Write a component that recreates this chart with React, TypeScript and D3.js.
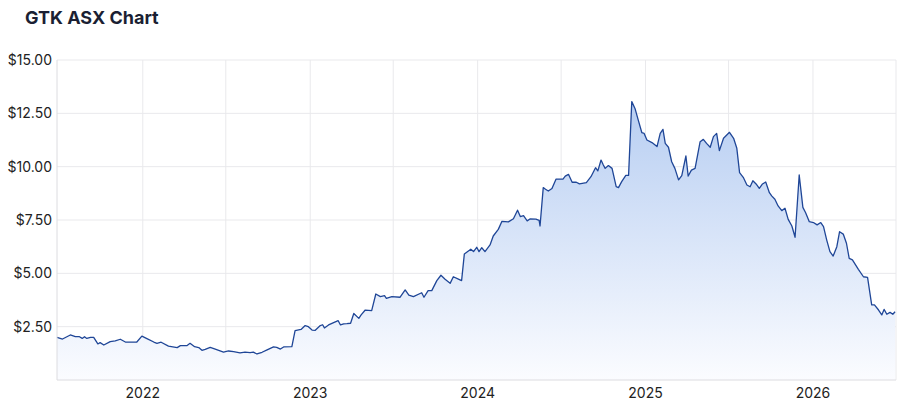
import React from "react";
import * as d3 from "d3";

const title = "GTK ASX Chart";

const dates: string[] = [
  "2021-06-28","2021-07-10","2021-07-27","2021-08-07","2021-08-16","2021-08-22","2021-08-27","2021-09-01","2021-09-09","2021-09-16",
  "2021-09-25","2021-09-30","2021-10-08","2021-10-22","2021-11-02","2021-11-13","2021-11-24","2021-12-19","2021-12-30","2022-01-10",
  "2022-01-25","2022-02-01","2022-02-10","2022-02-26","2022-03-17","2022-03-24","2022-04-07","2022-04-14","2022-04-24","2022-05-03",
  "2022-05-10","2022-05-17","2022-05-28","2022-06-08","2022-06-26","2022-07-07","2022-07-18","2022-08-01","2022-08-12","2022-08-23",
  "2022-08-30","2022-09-07","2022-09-18","2022-09-29","2022-10-13","2022-10-20","2022-10-28","2022-11-04","2022-11-22","2022-11-29",
  "2022-12-12","2022-12-21","2022-12-28","2023-01-05","2023-01-12","2023-01-23","2023-01-28","2023-02-01","2023-02-10","2023-02-21",
  "2023-03-03","2023-03-08","2023-03-15","2023-03-22","2023-03-30","2023-04-06","2023-04-17","2023-04-22","2023-05-01","2023-05-15",
  "2023-05-24","2023-06-03","2023-06-12","2023-06-16","2023-06-28","2023-07-16","2023-07-27","2023-08-04","2023-08-14","2023-09-01",
  "2023-09-06","2023-09-15","2023-09-23","2023-10-04","2023-10-13","2023-10-22","2023-11-02","2023-11-09","2023-11-20","2023-11-27",
  "2023-12-03","2023-12-17","2023-12-23","2023-12-30","2024-01-04","2024-01-10","2024-01-17","2024-01-28","2024-02-04","2024-02-15",
  "2024-02-23","2024-03-08","2024-03-19","2024-03-28","2024-04-03","2024-04-10","2024-04-18","2024-04-24","2024-05-07","2024-05-14",
  "2024-05-16","2024-05-23","2024-05-28","2024-06-03","2024-06-11","2024-06-20","2024-07-05","2024-07-10","2024-07-17","2024-07-25",
  "2024-08-03","2024-08-10","2024-08-25","2024-09-04","2024-09-14","2024-09-19","2024-09-26","2024-10-01","2024-10-05","2024-10-12",
  "2024-10-20","2024-10-29","2024-11-03","2024-11-10","2024-11-19","2024-11-25","2024-12-02","2024-12-09","2024-12-16","2024-12-24",
  "2024-12-29","2025-01-04","2025-01-15","2025-01-26","2025-02-02","2025-02-08","2025-02-13","2025-02-20","2025-02-27","2025-03-06",
  "2025-03-14","2025-03-21","2025-03-30","2025-04-04","2025-04-11","2025-04-19","2025-04-30","2025-05-07","2025-05-14","2025-05-22",
  "2025-05-29","2025-06-05","2025-06-11","2025-06-20","2025-07-03","2025-07-12","2025-07-19","2025-07-25","2025-08-02","2025-08-10",
  "2025-08-17","2025-08-23","2025-08-30","2025-09-06","2025-09-13","2025-09-20","2025-09-28","2025-10-03","2025-10-10","2025-10-17",
  "2025-10-25","2025-11-01","2025-11-08","2025-11-16","2025-11-23","2025-12-02","2025-12-10","2025-12-16","2025-12-24","2026-01-02",
  "2026-01-10","2026-01-18","2026-01-24","2026-01-31","2026-02-07","2026-02-14","2026-02-22","2026-02-28","2026-03-08","2026-03-15",
  "2026-03-21","2026-03-28","2026-04-10","2026-04-21","2026-04-30","2026-05-09","2026-05-15","2026-05-24","2026-05-31","2026-06-05",
  "2026-06-11","2026-06-18","2026-06-24","2026-06-29"
];

const prices: number[] = [
  2.00,1.92,2.11,2.03,2.03,1.95,2.03,1.95,2.00,2.00,
  1.69,1.75,1.64,1.80,1.83,1.91,1.78,1.78,2.06,1.94,
  1.78,1.72,1.77,1.59,1.52,1.61,1.61,1.72,1.56,1.52,
  1.39,1.44,1.53,1.45,1.31,1.36,1.33,1.27,1.31,1.28,
  1.31,1.22,1.30,1.41,1.55,1.53,1.45,1.55,1.56,2.31,
  2.37,2.55,2.50,2.34,2.33,2.55,2.59,2.44,2.58,2.69,
  2.78,2.58,2.63,2.64,2.66,3.12,2.89,3.05,3.28,3.25,
  4.03,3.91,3.95,3.83,3.91,3.88,4.22,3.98,3.91,4.09,
  3.88,4.19,4.19,4.66,4.91,4.72,4.53,4.84,4.73,4.66,
  5.91,6.13,6.02,6.22,6.02,6.20,6.02,6.33,6.75,7.06,
  7.44,7.41,7.56,7.96,7.66,7.70,7.46,7.55,7.54,7.48,
  7.22,9.02,8.94,8.86,8.98,9.42,9.42,9.56,9.64,9.27,
  9.27,9.19,9.25,9.53,9.95,9.80,10.31,10.08,9.92,10.05,
  9.92,9.06,9.02,9.30,9.59,9.59,13.05,12.73,12.19,11.59,
  11.56,11.25,11.13,10.94,11.56,11.75,11.09,10.91,10.23,9.92,
  9.38,9.58,10.50,9.56,9.84,9.92,11.17,11.28,11.09,10.91,
  11.41,11.56,10.75,11.33,11.61,11.33,10.86,9.72,9.50,9.14,
  9.06,9.34,9.19,8.98,9.19,9.28,8.78,8.63,8.47,8.16,
  7.94,8.05,7.53,7.22,6.69,9.61,8.09,7.84,7.42,7.38,
  7.27,7.38,7.19,6.56,6.02,5.81,6.25,6.95,6.84,6.41,
  5.70,5.63,5.19,4.84,4.81,3.52,3.52,3.28,3.05,3.31,
  3.08,3.17,3.08,3.20
];

const yTicks: number[] = [2.5, 5, 7.5, 10, 12.5, 15];
const yearTicks: string[] = ["2022-01-01", "2023-01-01", "2024-01-01", "2025-01-01", "2026-01-01"];
const midTicks: string[] = ["2022-07-01", "2023-07-01", "2024-07-01", "2025-07-01", "2026-07-01"];
const domainStart = "2021-06-28";
const domainEnd = "2026-07-01";

export default function App() {
  const W = 905, H = 415;
  const left = 57, right = 896, top = 60, bottom = 380;
  const parse = d3.utcParse("%Y-%m-%d");
  const data = dates.map((d, i) => ({ date: parse(d) as Date, value: prices[i] }));
  const x = d3.scaleUtc().domain([parse(domainStart) as Date, parse(domainEnd) as Date]).range([left, right]);
  const y = d3.scaleLinear().domain([0, 15]).range([bottom, top]);
  const line = d3.line<{ date: Date; value: number }>().x(d => x(d.date)).y(d => y(d.value));
  const area = d3.area<{ date: Date; value: number }>().x(d => x(d.date)).y0(bottom).y1(d => y(d.value));
  const fmt = d3.format("$.2f");
  const font = "Inter, 'Noto Sans', 'DejaVu Sans', sans-serif";
  const grid = "#e9e9ec";

  return (
    <svg width={W} height={H} style={{ position: "absolute", left: 0, top: 0 }} fontFamily={font}>
      <defs>
        <linearGradient id="fillGrad" x1="0" y1={top} x2="0" y2={bottom} gradientUnits="userSpaceOnUse">
          <stop offset="0%" stopColor="#adc7f0" />
          <stop offset="100%" stopColor="#fbfcff" />
        </linearGradient>
      </defs>
      <rect width={W} height={H} fill="#fff" />
      <text x={25} y={24} fontSize={18} fontWeight={700} fill="#1b1f33">{title}</text>
      {yTicks.map(t => (
        <line key={"gy" + t} x1={left} x2={right} y1={y(t)} y2={y(t)} stroke={grid} strokeWidth={1} />
      ))}
      {[...yearTicks, ...midTicks].map(t => (
        <line key={"gx" + t} x1={x(parse(t) as Date)} x2={x(parse(t) as Date)} y1={top} y2={bottom} stroke={grid} strokeWidth={1} />
      ))}
      <path d={area(data) || ""} fill="url(#fillGrad)" />
      <path d={line(data) || ""} fill="none" stroke="#1f4697" strokeWidth={1.3} strokeLinejoin="round" />
      <line x1={left} x2={left} y1={top} y2={bottom} stroke="#dcdce0" />
      <line x1={left} x2={right} y1={bottom} y2={bottom} stroke="#dcdce0" />
      {yTicks.map(t => (
        <text key={"ly" + t} x={52} y={y(t)} dy="0.35em" textAnchor="end" fontSize={14} fill="#222">{fmt(t)}</text>
      ))}
      {yearTicks.map(t => (
        <text key={"lx" + t} x={x(parse(t) as Date)} y={398} textAnchor="middle" fontSize={14} fill="#222">{t.slice(0, 4)}</text>
      ))}
    </svg>
  );
}
